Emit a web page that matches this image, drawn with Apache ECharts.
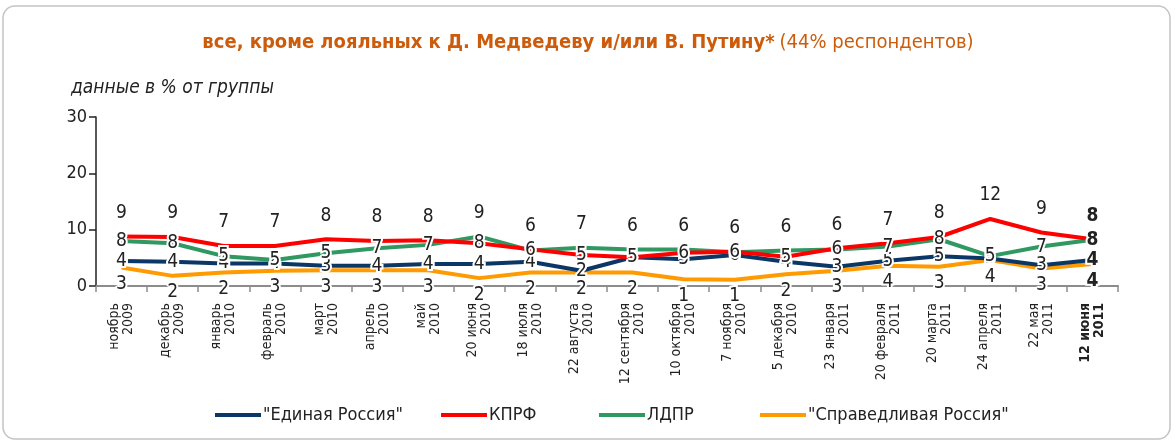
<!DOCTYPE html>
<html>
<head>
<meta charset="utf-8">
<title>Рейтинги партий</title>
<script src="https://cdn.jsdelivr.net/npm/echarts@6/dist/echarts.min.js"></script>
<style>
  html, body { margin: 0; padding: 0; background: #fff; }
  #chart { width: 1176px; height: 444px; }
</style>
</head>
<body>
<div id="chart"></div>
<script type="text/javascript">
// даты опросов
var categories = ['ноябрь\n2009', 'декабрь\n2009', 'январь\n2010', 'февраль\n2010', 'март\n2010',
  'апрель\n2010', 'май\n2010', '20 июня\n2010', '18 июля\n2010', '22 августа\n2010',
  '12 сентября\n2010', '10 октября\n2010', '7 ноября\n2010', '5 декабря\n2010', '23 января\n2011',
  '20 февраля\n2011', '20 марта\n2011', '24 апреля\n2011', '22 мая\n2011', '12 июня\n2011'];

// положение линий (оценка по картинке)
var erValues   = [4.45, 4.3, 4.0, 4.0, 3.6, 3.6, 3.9, 3.9, 4.3, 2.7, 5.1, 4.75, 5.5, 4.3, 3.4, 4.5, 5.3, 4.9, 3.7, 4.6];
var kprfValues = [8.8, 8.7, 7.1, 7.1, 8.3, 8.0, 8.1, 7.6, 6.5, 5.5, 5.1, 5.9, 6.1, 5.2, 6.7, 7.6, 8.7, 11.9, 9.5, 8.3];
var ldprValues = [8.0, 7.6, 5.3, 4.6, 5.8, 6.7, 7.3, 8.8, 6.3, 6.8, 6.5, 6.5, 6.0, 6.3, 6.5, 7.0, 8.3, 5.3, 7.0, 8.2];
var srValues   = [3.3, 1.8, 2.4, 2.7, 2.8, 2.8, 2.8, 1.4, 2.4, 2.4, 2.4, 1.2, 1.1, 2.1, 2.7, 3.6, 3.4, 4.6, 3.1, 3.9];

// подписи значений (как напечатаны)
var erLabels   = [4, 4, 4, 4, 3, 4, 4, 4, 4, 2, 5, 5, 6, 4, 3, 5, 5, 5, 3, 4];
var kprfLabels = [9, 9, 7, 7, 8, 8, 8, 8, 6, 5, 5, 6, 6, 5, 6, 7, 8, 12, 9, 8];
var ldprLabels = [8, 8, 5, 5, 5, 7, 7, 9, 6, 7, 6, 6, 6, 6, 6, 7, 8, 5, 7, 8];
var srLabels   = [3, 2, 2, 3, 3, 3, 3, 2, 2, 2, 2, 1, 1, 2, 3, 4, 3, 4, 3, 4];

var seriesNames = ['"Единая Россия"', 'КПРФ', 'ЛДПР', '"Справедливая Россия"'];
var colors = ['#0b3766', '#ff0000', '#2f9961', '#ff9a00'];

var FONT = "'DejaVu Sans Condensed', 'Liberation Sans', sans-serif";
var last = categories.length - 1;

// собрать точки с подписями
function makeData(values, labels, posFn) {
  return values.map(function (v, i) {
    var p = posFn(i);
    return {
      value: v,
      label: {
        show: true,
        formatter: String(labels[i]),
        position: p.position,
        distance: p.distance,
        offset: p.offset,
        fontWeight: i === last ? 'bold' : 'normal'
      }
    };
  });
}

function redTop(i) { return kprfValues[i] >= ldprValues[i]; }

var kprfData = makeData(kprfValues, kprfLabels, function (i) {
  return redTop(i) ? { position: 'top', distance: 14, offset: [0, 0] }
                   : { position: 'inside', distance: 0, offset: [0, -4] };
});
var ldprData = makeData(ldprValues, ldprLabels, function (i) {
  return !redTop(i) ? { position: 'top', distance: 14, offset: [0, 0] }
                    : { position: 'inside', distance: 0, offset: [0, -4] };
});
var erData = makeData(erValues, erLabels, function (i) {
  return { position: 'inside', distance: 0, offset: [0, 5] };
});
var srData = makeData(srValues, srLabels, function (i) {
  return { position: 'bottom', distance: 7, offset: [0, 0] };
});

var myChart = echarts.init(document.getElementById('chart'));

var labelBase = {
  show: true,
  color: '#222',
  fontFamily: FONT,
  fontSize: 19,
  textBorderColor: '#fff',
  textBorderWidth: 4
};

function lineSeries(name, color, data) {
  return {
    name: name,
    type: 'line',
    data: data,
    symbol: 'circle',
    symbolSize: 0.1,
    showSymbol: true,
    z: 2,
    lineStyle: { color: color, width: 4 },
    itemStyle: { color: color },
    label: labelBase,
    labelLayout: { hideOverlap: false },
    emphasis: { disabled: true }
  };
}

function legendAt(name, left) {
  return {
    data: [name],
    left: left,
    top: 401,
    icon: 'rect',
    itemWidth: 46,
    itemHeight: 4,
    itemGap: 0,
    textStyle: { color: '#222', fontFamily: FONT, fontSize: 18, padding: [0, 0, 0, -3] }
  };
}

var option = {
  animation: false,
  backgroundColor: '#fff',
  title: [{
    text: '{b|все, кроме лояльных к Д. Медведеву и/или В. Путину*} {n|(44% респондентов)}',
    left: 'center',
    top: 28,
    textStyle: {
      fontWeight: 'normal',
      rich: {
        b: { color: '#cc5c0c', fontFamily: FONT, fontSize: 20, fontWeight: 'bold' },
        n: { color: '#cc5c0c', fontFamily: FONT, fontSize: 20, fontWeight: 'normal' }
      }
    }
  }, {
    text: 'данные в % от группы',
    left: 66,
    top: 74,
    textStyle: { color: '#222', fontFamily: FONT, fontSize: 19, fontStyle: 'italic', fontWeight: 'normal' }
  }],
  legend: [
    legendAt(seriesNames[0], 210),
    legendAt(seriesNames[1], 436),
    legendAt(seriesNames[2], 594),
    legendAt(seriesNames[3], 755)
  ],
  graphic: [{
    type: 'rect',
    shape: { x: 3, y: 6, width: 1167, height: 433, r: 12 },
    style: { fill: 'none', stroke: '#c4c4c4', lineWidth: 1.5 },
    silent: true
  }],
  grid: { left: 96, right: 58, top: 117, bottom: 158 },
  xAxis: {
    type: 'category',
    data: categories,
    boundaryGap: true,
    axisLine: { lineStyle: { color: '#8c8c8c', width: 2 } },
    axisTick: { show: true, length: 6, lineStyle: { color: '#8c8c8c', width: 1.5 } },
    axisLabel: {
      interval: 0,
      rotate: 90,
      margin: 17,
      color: '#222',
      fontFamily: FONT,
      fontSize: 14,
      lineHeight: 14,
      formatter: function (val, idx) {
        return idx === last ? '{b|' + val.replace('\n', '}\n{b|') + '}' : val;
      },
      rich: {
        b: { fontWeight: 'bold', fontFamily: FONT, fontSize: 14, lineHeight: 14, color: '#222' }
      }
    },
    splitLine: { show: false }
  },
  yAxis: {
    type: 'value',
    min: 0,
    max: 30,
    interval: 10,
    axisLine: { show: true, lineStyle: { color: '#222', width: 1.5 } },
    axisTick: { show: true, length: 7, lineStyle: { color: '#222', width: 1.5 } },
    axisLabel: { color: '#222', fontFamily: FONT, fontSize: 18, margin: 9 },
    splitLine: { show: false }
  },
  series: [
    lineSeries(seriesNames[3], colors[3], srData),
    lineSeries(seriesNames[0], colors[0], erData),
    lineSeries(seriesNames[2], colors[2], ldprData),
    lineSeries(seriesNames[1], colors[1], kprfData)
  ]
};

myChart.setOption(option);
</script>
</body>
</html>
